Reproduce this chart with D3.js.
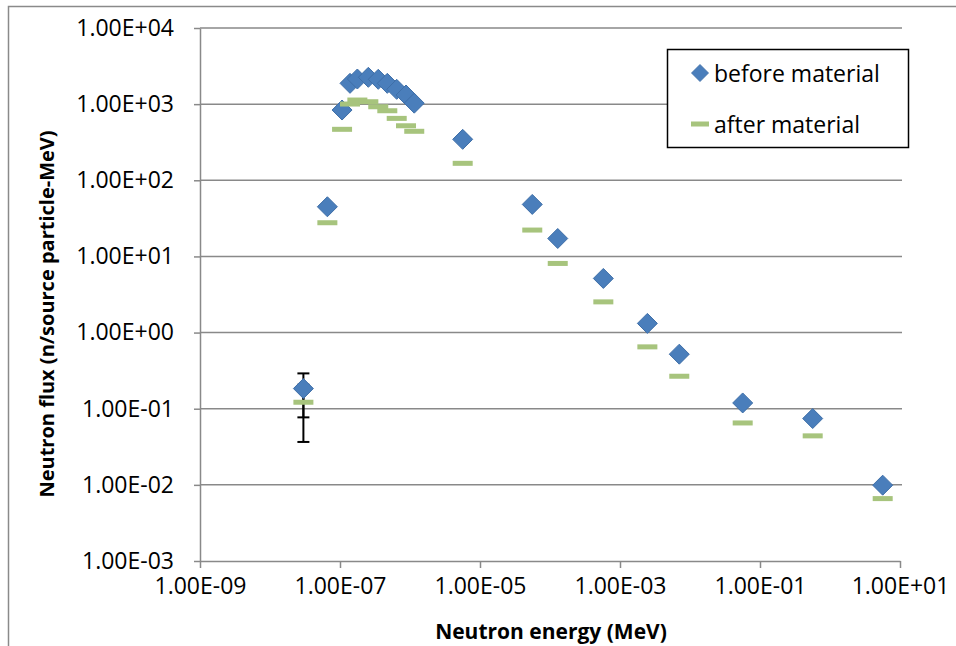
<!DOCTYPE html>
<html>
<head>
<meta charset="utf-8">
<script src="https://cdn.jsdelivr.net/npm/d3@7"></script>
<style>
  html, body { margin: 0; padding: 0; background: #fff; }
  svg { display: block; font-family: "Open Sans", "DejaVu Sans", sans-serif; }
</style>
</head>
<body>
<svg id="chart" width="956" height="646"></svg>
<script>
// Neutron energy bins (MeV)
const energy = [3.0e-8, 6.6e-8, 1.07e-7, 1.39e-7, 1.77e-7, 2.54e-7, 3.52e-7, 4.74e-7,
                6.46e-7, 8.77e-7, 1.15e-6, 5.66e-6, 5.58e-5, 1.29e-4, 5.78e-4, 2.46e-3,
                7.03e-3, 5.66e-2, 5.66e-1, 5.66];
// Flux before the material (n/source particle-MeV)
const before = [0.184, 44.9, 837, 1876, 2138, 2250, 2118, 1876,
                1565, 1318, 1030, 345, 48.2, 17.2, 5.14, 1.32,
                0.52, 0.119, 0.0743, 0.0099];
// Flux after the material
const after = [0.1216, 27.7, 467, 1003, 1132, 1076, 924, 819,
               650, 520, 440, 167, 22.2, 8.09, 2.53, 0.649,
               0.267, 0.065, 0.044, 0.0066];
// Error bars (index into the arrays above, +/- value)
const beforeErrors = [{ i: 0, err: 0.107 }];
const afterErrors = [{ i: 0, err: 0.085 }];

const seriesNames = ["before material", "after material"];
const xTickValues = [1e-9, 1e-7, 1e-5, 1e-3, 1e-1, 1e1];
const xTickLabels = ["1.00E-09", "1.00E-07", "1.00E-05", "1.00E-03", "1.00E-01", "1.00E+01"];
const yTickValues = [1e-3, 1e-2, 1e-1, 1e0, 1e1, 1e2, 1e3, 1e4];
const yTickLabels = ["1.00E-03", "1.00E-02", "1.00E-01", "1.00E+00", "1.00E+01", "1.00E+02", "1.00E+03", "1.00E+04"];

const blue = "#4A7EBB";
const blueEdge = "#3F6FA8";
const green = "#A7C47D";
const gridColor = "#898989";

const svg = d3.select("#chart");

// Outer chart frame
svg.append("rect")
  .attr("x", 8.5).attr("y", 6.5)
  .attr("width", 1000).attr("height", 1000)
  .attr("fill", "none").attr("stroke", "#8a8a8a").attr("stroke-width", 1.5);

const x = d3.scaleLog().domain([1e-9, 10]).range([200, 900]);
const y = d3.scaleLog().domain([1e-3, 1e4]).range([561, 28]);

// Horizontal gridlines
svg.append("g")
  .selectAll("line")
  .data(yTickValues.slice(1))
  .join("line")
  .attr("x1", 200).attr("x2", 902)
  .attr("y1", d => y(d)).attr("y2", d => y(d))
  .attr("stroke", gridColor).attr("stroke-width", 1.5);

// Y axis
const yAxis = svg.append("g")
  .attr("transform", "translate(200,0)")
  .call(d3.axisLeft(y)
    .tickValues(yTickValues)
    .tickFormat((d, i) => yTickLabels[i])
    .tickSize(6)
    .tickSizeOuter(0)
    .tickPadding(20));

// X axis
const xAxis = svg.append("g")
  .attr("transform", "translate(0,561)")
  .call(d3.axisBottom(x)
    .tickValues(xTickValues)
    .tickFormat((d, i) => xTickLabels[i])
    .tickSize(7)
    .tickSizeOuter(0)
    .tickPadding(10));

[yAxis, xAxis].forEach(g => {
  g.select(".domain").attr("stroke", gridColor).attr("stroke-width", 1.5);
  g.selectAll(".tick line").attr("stroke", gridColor).attr("stroke-width", 1.5);
  g.selectAll(".tick text")
    .attr("fill", "#000")
    .style("font-size", "23px")
    .style("font-family", "'Open Sans', sans-serif");
});

// Axis titles
svg.append("text")
  .attr("x", 551).attr("y", 639)
  .attr("text-anchor", "middle")
  .style("font-size", "21px").style("font-weight", "bold")
  .text("Neutron energy (MeV)");

svg.append("text")
  .attr("transform", "translate(54,314) rotate(-90)")
  .attr("text-anchor", "middle")
  .style("font-size", "20px").style("font-weight", "bold")
  .text("Neutron flux (n/source particle-MeV)");

const plot = svg.append("g");

// Error bars (drawn beneath the markers)
function drawErrors(list, values) {
  list.forEach(e => {
    const cx = x(energy[e.i]);
    const v = values[e.i];
    const top = y(v + e.err);
    const bot = y(v - e.err);
    plot.append("line").attr("x1", cx).attr("x2", cx).attr("y1", top).attr("y2", bot)
      .attr("stroke", "#000").attr("stroke-width", 2);
    [top, bot].forEach(yy => plot.append("line")
      .attr("x1", cx - 6).attr("x2", cx + 6).attr("y1", yy).attr("y2", yy)
      .attr("stroke", "#000").attr("stroke-width", 2));
  });
}
drawErrors(beforeErrors, before);
drawErrors(afterErrors, after);

// Diamonds: before material
const diamond = "M0,-10L10,0L0,10L-10,0Z";
plot.append("g").selectAll("path")
  .data(energy.map((e, i) => [e, before[i]]))
  .join("path")
  .attr("d", diamond)
  .attr("transform", d => `translate(${x(d[0])},${y(d[1])})`)
  .attr("fill", blue).attr("stroke", blueEdge).attr("stroke-width", 1);

// Dashes: after material
plot.append("g").selectAll("rect")
  .data(energy.map((e, i) => [e, after[i]]))
  .join("rect")
  .attr("x", d => x(d[0]) - 10).attr("y", d => y(d[1]) - 2.5)
  .attr("width", 20).attr("height", 5)
  .attr("fill", green);

// Legend
const legend = svg.append("g");
legend.append("rect")
  .attr("x", 667.5).attr("y", 49.5).attr("width", 241).attr("height", 98)
  .attr("fill", "#fff").attr("stroke", "#000").attr("stroke-width", 1.5);
legend.append("path").attr("d", diamond)
  .attr("transform", "translate(700,73) scale(0.85)")
  .attr("fill", blue).attr("stroke", blueEdge);
legend.append("rect")
  .attr("x", 691).attr("y", 121.5).attr("width", 18).attr("height", 5)
  .attr("fill", green);
legend.selectAll("text.lbl")
  .data(seriesNames)
  .join("text")
  .attr("class", "lbl")
  .attr("x", 714).attr("y", (d, i) => 73 + i * 51)
  .attr("dominant-baseline", "central")
  .style("font-size", "23px")
  .text(d => d);
</script>
</body>
</html>
